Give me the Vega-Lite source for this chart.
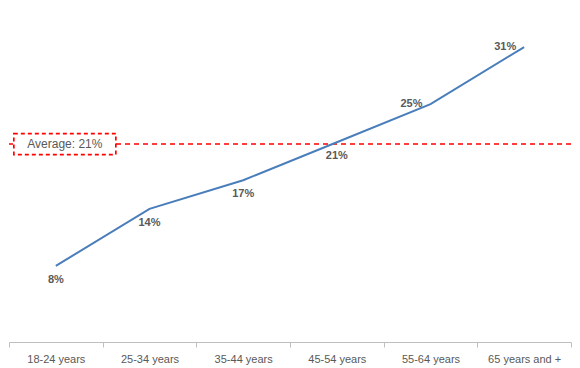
{
  "$schema": "https://vega.github.io/schema/vega-lite/v6.json",
  "autosize": "none",
  "width": 562,
  "height": 333,
  "padding": {"left": 9, "top": 9, "right": 9, "bottom": 26},
  "background": "white",
  "config": {"view": {"stroke": null}, "font": "Liberation Sans"},
  "data": {"values": [
    {"age": "18-24 years", "value": 0.08},
    {"age": "25-34 years", "value": 0.14},
    {"age": "35-44 years", "value": 0.17},
    {"age": "45-54 years", "value": 0.21},
    {"age": "55-64 years", "value": 0.25},
    {"age": "65 years and +", "value": 0.31}
  ]},
  "encoding": {
    "x": {"field": "age", "type": "ordinal", "sort": null,
      "scale": {"paddingInner": 0, "paddingOuter": 0},
      "axis": {"title": null, "labelAngle": 0, "labelColor": "#595959", "labelFontSize": 11,
        "domainColor": "#bfbfbf", "tickColor": "#bfbfbf", "tickBand": "extent", "tickSize": 5,
        "labelPadding": 6, "grid": false}},
    "y": {"field": "value", "type": "quantitative", "scale": {"domain": [0, 0.35]}, "axis": null}
  },
  "layer": [
    {"data": {"values": [{"avg": 0.208}]},
     "mark": {"type": "rule", "color": "#ff0000", "strokeDash": [5, 4], "strokeWidth": 1.5, "x2Offset": 7},
     "encoding": {"x": null, "y": {"field": "avg", "type": "quantitative"}}},
    {"mark": {"type": "line", "color": "#4a7ebb", "strokeWidth": 2}},
    {"transform": [{"filter": "datum.value < 0.25"}],
     "mark": {"type": "text", "fontWeight": "bold", "fontSize": 11, "color": "#595959", "dy": 14},
     "encoding": {"text": {"field": "value", "type": "quantitative", "format": ".0%"}}},
    {"transform": [{"filter": "datum.value >= 0.25"}],
     "mark": {"type": "text", "fontWeight": "bold", "fontSize": 11, "color": "#595959", "dx": -19, "dy": 0},
     "encoding": {"text": {"field": "value", "type": "quantitative", "format": ".0%"}}},
    {"data": {"values": [{"age": "18-24 years", "avg": 0.208, "label": "Average: 21%"}]},
     "mark": {"type": "rect", "fill": "#ffffff", "opacity": 1, "fillOpacity": 1, "stroke": "#ff0000", "strokeDash": [4, 3], "strokeWidth": 1.7, "width": 102, "height": 21, "xOffset": 9},
     "encoding": {"y": {"field": "avg", "type": "quantitative"}}},
    {"data": {"values": [{"age": "18-24 years", "avg": 0.208, "label": "Average: 21%"}]},
     "mark": {"type": "text", "fontSize": 12, "fontWeight": "normal", "color": "#595959", "xOffset": 9},
     "encoding": {"y": {"field": "avg", "type": "quantitative"}, "text": {"field": "label"}}}
  ]
}
